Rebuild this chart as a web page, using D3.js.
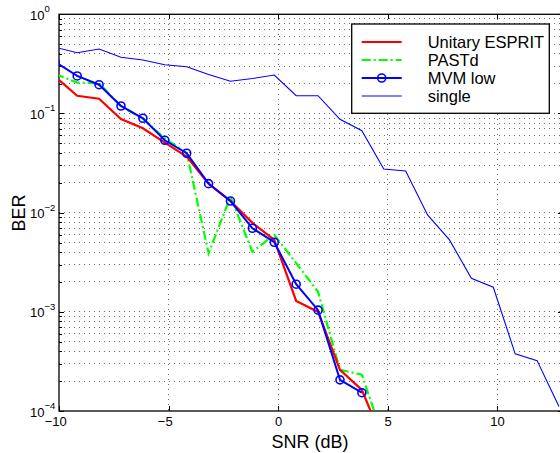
<!DOCTYPE html>
<html>
<head>
<meta charset="utf-8">
<script src="https://cdn.jsdelivr.net/npm/d3@7/dist/d3.min.js"></script>
<style>
  body { margin: 0; background: #fff; }
  svg { font-family: "Liberation Sans", Arial, Helvetica, sans-serif; }
  .grid line { stroke: #6a6a6a; stroke-width: 1; stroke-dasharray: 1,4; shape-rendering: crispEdges; }
  .axis path { display: none; }
  .axis line { stroke: #000; shape-rendering: crispEdges; }
  .axis text { font-size: 13px; fill: #000; }
</style>
</head>
<body>
<svg id="plot" width="560" height="453"></svg>
<script>
// SNR points (dB)
var snr = [-10.17, -9.17, -8.17, -7.17, -6.17, -5.17, -4.17, -3.17, -2.17, -1.17, -0.17,
           0.83, 1.83, 2.83, 3.83, 4.83, 5.83, 6.83, 7.83, 8.83, 9.83, 10.83, 11.83, 12.83];

var berEsprit = [0.234, 0.151, 0.141, 0.088, 0.071, 0.0508, 0.0367, 0.0196, 0.0131, 0.0079, 0.0053,
                 0.00129, 0.000998, 0.00026, 0.000163, 0.000048];
var berPast = [0.25, 0.205, 0.202, 0.118, 0.089, 0.056, 0.040, 0.0039, 0.0145, 0.00404, 0.00596,
               0.0031, 0.00159, 0.00026, 0.000232, 0.000052];
var berMvm = [0.33, 0.239, 0.195, 0.119, 0.0895, 0.0537, 0.0397, 0.0196, 0.0131, 0.00696, 0.00503,
              0.0019, 0.00104, 0.000206, 0.000153];
var berSingle = [0.464, 0.410, 0.447, 0.369, 0.346, 0.310, 0.296, 0.247, 0.211, 0.225, 0.244,
                 0.151, 0.151, 0.0874, 0.0671, 0.0276, 0.0263, 0.00948, 0.00531, 0.00218, 0.00177,
                 0.000377, 0.000322, 0.000111];

var seriesNames = ["Unitary ESPRIT", "PASTd", "MVM low", "single"];
var xTicks = [-10, -5, 0, 5, 10];
var yDecades = [-4, -3, -2, -1, 0];

var svg = d3.select("#plot"),
    margin = {top: 14.3, left: 59, bottom: 411},
    right = 562.7;

var x = d3.scaleLinear().domain([-10, 13]).range([margin.left, right]);
var y = d3.scaleLog().domain([1e-4, 1]).range([margin.bottom, margin.top]);

// all log grid positions: 1..9 in each decade
var yGrid = [];
yDecades.slice(0, -1).forEach(function (e) {
  for (var m = 1; m < 10; m++) yGrid.push(m * Math.pow(10, e));
});
yGrid.push(1);
var yMinor = yGrid.filter(function (v) { return yDecades.indexOf(Math.round(Math.log10(v) * 1000) / 1000) < 0; });

svg.append("defs").append("clipPath").attr("id", "clip")
  .append("rect")
  .attr("x", margin.left).attr("y", margin.top)
  .attr("width", right - margin.left).attr("height", margin.bottom - margin.top);

// grid
var grid = svg.append("g").attr("class", "grid");
grid.selectAll(".gy").data(yGrid.slice(1, -1)).enter().append("line")
  .attr("x1", margin.left).attr("x2", right)
  .attr("y1", function (d) { return y(d); }).attr("y2", function (d) { return y(d); });
grid.selectAll(".gx").data(xTicks.slice(1)).enter().append("line")
  .attr("y1", margin.top).attr("y2", margin.bottom)
  .attr("x1", function (d) { return x(d); }).attr("x2", function (d) { return x(d); });

// axes
var xAxis = d3.axisBottom(x).tickValues(xTicks).tickSizeInner(-5).tickSizeOuter(0).tickPadding(6)
  .tickFormat(function (t) { return Math.abs(t); });
var gx = svg.append("g").attr("class", "axis").attr("transform", "translate(0," + margin.bottom + ")").call(xAxis);
gx.selectAll(".tick").each(function (t) {
  if (t < 0) {
    var txt = d3.select(this).select("text");
    var w = txt.node().getComputedTextLength();
    d3.select(this).append("text")
      .attr("x", -w / 2).attr("y", 6).attr("dy", "0.71em")
      .attr("text-anchor", "end").attr("fill", "#000")
      .text("\u2212");
  }
});
svg.append("g").attr("class", "axis").attr("transform", "translate(0," + margin.top + ")")
  .call(d3.axisTop(x).tickValues(xTicks).tickSizeInner(-5).tickSizeOuter(0).tickFormat(""));

var yAxisL = d3.axisLeft(y).tickValues(yDecades.map(function (e) { return Math.pow(10, e); }))
  .tickSizeInner(-5).tickSizeOuter(0).tickFormat("");
svg.append("g").attr("class", "axis").attr("transform", "translate(" + margin.left + ",0)").call(yAxisL);
svg.append("g").attr("class", "axis").attr("transform", "translate(" + margin.left + ",0)")
  .call(d3.axisLeft(y).tickValues(yMinor).tickSizeInner(-3).tickSizeOuter(0).tickFormat(""));
svg.append("g").attr("class", "axis").attr("transform", "translate(" + right + ",0)")
  .call(d3.axisRight(y).tickValues(yDecades.map(function (e) { return Math.pow(10, e); }))
    .tickSizeInner(-5).tickSizeOuter(0).tickFormat(""));
svg.append("g").attr("class", "axis").attr("transform", "translate(" + right + ",0)")
  .call(d3.axisRight(y).tickValues(yMinor).tickSizeInner(-3).tickSizeOuter(0).tickFormat(""));

// y tick labels 10^e
yDecades.forEach(function (e) {
  var yy = y(Math.pow(10, e));
  var t = svg.append("text").attr("x", 30).attr("y", yy + 5.5).attr("font-size", 13);
  t.append("tspan").text("10");
  t.append("tspan").attr("font-size", 9.5).attr("dy", -7.5)
    .text(e < 0 ? "\u2212" + Math.abs(e) : e);
});

// box
svg.append("rect")
  .attr("x", margin.left).attr("y", margin.top)
  .attr("width", right - margin.left).attr("height", margin.bottom - margin.top)
  .attr("fill", "none").attr("stroke", "#000").attr("stroke-width", 1.3);

// axis titles
svg.append("text").attr("x", 310).attr("y", 448).attr("text-anchor", "middle")
  .attr("font-size", 18).text("SNR (dB)");
svg.append("text").attr("transform", "translate(25,213) rotate(-90)").attr("text-anchor", "middle")
  .attr("font-size", 18).text("BER");

// lines
var line = d3.line()
  .x(function (d, i) { return x(snr[i]); })
  .y(function (d) { return y(d); });

var plot = svg.append("g").attr("clip-path", "url(#clip)");
var styles = [
  {data: berEsprit, color: "#ff0000", width: 2.2, dash: null},
  {data: berPast, color: "#00ff00", width: 2.2, dash: "9,3,2,3"},
  {data: berMvm, color: "#0000ff", width: 2, dash: null},
  {data: berSingle, color: "#0000ff", width: 1.1, dash: null}
];
// draw single first so the thick lines sit above it
[3, 1, 0, 2].forEach(function (k) {
  var s = styles[k];
  plot.append("path").datum(s.data)
    .attr("fill", "none").attr("stroke", s.color).attr("stroke-width", s.width)
    .attr("stroke-dasharray", s.dash)
    .attr("d", line);
});
plot.selectAll(".mk").data(berMvm).enter().append("circle")
  .attr("cx", function (d, i) { return x(snr[i]); })
  .attr("cy", function (d) { return y(d); })
  .attr("r", 4)
  .attr("fill", "none").attr("stroke", "#0000ff").attr("stroke-width", 1.6);

// legend
var lg = svg.append("g");
lg.append("rect").attr("x", 351.7).attr("y", 24).attr("width", 197.6).attr("height", 89.3)
  .attr("fill", "#fff").attr("stroke", "#000").attr("stroke-width", 1.3);
seriesNames.forEach(function (name, k) {
  var s = styles[k], yy = 42 + k * 18;
  lg.append("line").attr("x1", 361.7).attr("x2", 401.7).attr("y1", yy).attr("y2", yy)
    .attr("stroke", s.color).attr("stroke-width", s.width).attr("stroke-dasharray", s.dash);
  if (k == 2) {
    lg.append("circle").attr("cx", 381.7).attr("cy", yy).attr("r", 4)
      .attr("fill", "none").attr("stroke", s.color).attr("stroke-width", 1.6);
  }
  lg.append("text").attr("x", 427.7).attr("y", yy + 6).attr("font-size", 16.5).text(name);
});
</script>
</body>
</html>
